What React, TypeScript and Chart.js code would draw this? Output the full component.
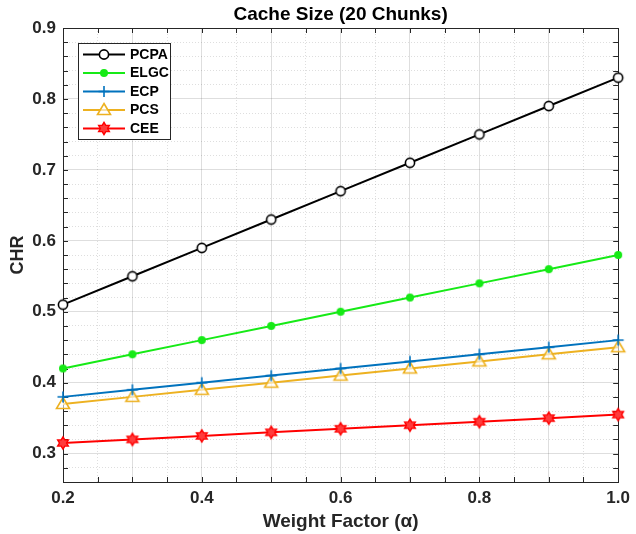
import React, { useEffect, useRef } from 'react';
import { Chart, registerables } from 'chart.js';

Chart.register(...registerables);

const titleText = 'Cache Size (20 Chunks)';
const xAxisTitle = 'Weight Factor (α)';
const yAxisTitle = 'CHR';

const weightFactors = [0.2, 0.3, 0.4, 0.5, 0.6, 0.7, 0.8, 0.9, 1.0];
const pcpaValues = [0.51, 0.55, 0.59, 0.63, 0.67, 0.71, 0.75, 0.79, 0.83];
const elgcValues = [0.42, 0.44, 0.46, 0.48, 0.5, 0.52, 0.54, 0.56, 0.58];
const ecpValues = [0.38, 0.39, 0.4, 0.41, 0.42, 0.43, 0.44, 0.45, 0.46];
const pcsValues = [0.37, 0.38, 0.39, 0.4, 0.41, 0.42, 0.43, 0.44, 0.45];
const ceeValues = [0.315, 0.32, 0.325, 0.33, 0.335, 0.34, 0.345, 0.35, 0.355];

const seriesNames = ['PCPA', 'ELGC', 'ECP', 'PCS', 'CEE'];
const seriesColors = ['#000000', '#16ea16', '#0072BD', '#EDB120', '#FF0000'];
const seriesMarkers = ['circle', 'dot', 'plus', 'triangle', 'hexagram'];

const xTickLabels = ['0.2', '0.4', '0.6', '0.8', '1.0'];
const yTickLabels = ['0.3', '0.4', '0.5', '0.6', '0.7', '0.8', '0.9'];

const X_MIN = 0.2, X_MAX = 1.0, X_STEP = 0.05;
const Y_MIN = 0.26, Y_MAX = 0.9, Y_STEP = 0.02;

const AXIS_COLOR = '#262626';
const FONT = "'Liberation Sans', Arial, sans-serif";

function drawMarker(ctx: CanvasRenderingContext2D, kind: string, color: string, cx: number, cy: number) {
  ctx.save();
  ctx.strokeStyle = color;
  ctx.fillStyle = color;
  ctx.lineWidth = 1.6;
  ctx.setLineDash([]);
  if (kind === 'circle') {
    ctx.beginPath();
    ctx.arc(cx, cy, 4.6, 0, Math.PI * 2);
    ctx.fillStyle = '#ffffff';
    ctx.fill();
    ctx.stroke();
  } else if (kind === 'dot') {
    ctx.beginPath();
    ctx.arc(cx, cy, 4, 0, Math.PI * 2);
    ctx.fill();
  } else if (kind === 'plus') {
    ctx.lineWidth = 1.6;
    ctx.beginPath();
    ctx.moveTo(cx - 5.5, cy);
    ctx.lineTo(cx + 5.5, cy);
    ctx.moveTo(cx, cy - 5.5);
    ctx.lineTo(cx, cy + 5.5);
    ctx.stroke();
  } else if (kind === 'triangle') {
    ctx.beginPath();
    ctx.moveTo(cx, cy - 6.5);
    ctx.lineTo(cx + 6.5, cy + 4.5);
    ctx.lineTo(cx - 6.5, cy + 4.5);
    ctx.closePath();
    ctx.fillStyle = 'rgba(255,255,255,0.6)';
    ctx.fill();
    ctx.stroke();
  } else if (kind === 'hexagram') {
    const R = 6.2, r = R / Math.sqrt(3);
    ctx.beginPath();
    for (let i = 0; i < 12; i++) {
      const rad = i % 2 === 0 ? R : r;
      const a = -Math.PI / 2 + (i * Math.PI) / 6;
      const px = cx + rad * Math.cos(a);
      const py = cy + rad * Math.sin(a);
      if (i === 0) ctx.moveTo(px, py); else ctx.lineTo(px, py);
    }
    ctx.closePath();
    ctx.fillStyle = '#ff3b3b';
    ctx.fill();
    ctx.lineWidth = 1.4;
    ctx.stroke();
  }
  ctx.restore();
}

function makeMarkerCanvas(kind: string, color: string): HTMLCanvasElement {
  const c = document.createElement('canvas');
  c.width = 18;
  c.height = 18;
  const ctx = c.getContext('2d');
  if (ctx) drawMarker(ctx, kind, color, 9, 9);
  return c;
}

const isMultiple = (v: number, step: number) => {
  const q = v / step;
  return Math.abs(q - Math.round(q)) < 1e-6;
};

const boxAndTicksPlugin = {
  id: 'boxAndTicks',
  beforeDatasetsDraw(chart: any) {
    const { ctx, chartArea } = chart;
    const { left, right, top, bottom } = chartArea;
    ctx.save();
    ctx.strokeStyle = AXIS_COLOR;
    ctx.lineWidth = 1;
    ctx.setLineDash([]);
    const tl = 5;
    ctx.beginPath();
    chart.scales.x.ticks.forEach((t: any) => {
      const px = Math.round(chart.scales.x.getPixelForValue(t.value)) + 0.5;
      ctx.moveTo(px, bottom);
      ctx.lineTo(px, bottom - tl);
      ctx.moveTo(px, top);
      ctx.lineTo(px, top + tl);
    });
    chart.scales.y.ticks.forEach((t: any) => {
      const py = Math.round(chart.scales.y.getPixelForValue(t.value)) + 0.5;
      ctx.moveTo(left, py);
      ctx.lineTo(left + tl, py);
      ctx.moveTo(right, py);
      ctx.lineTo(right - tl, py);
    });
    ctx.stroke();
    ctx.strokeRect(Math.round(left) + 0.5, Math.round(top) + 0.5, Math.round(right - left), Math.round(bottom - top));
    ctx.restore();
  },
};

const boxLegendPlugin = {
  id: 'boxLegend',
  afterDraw(chart: any) {
    const { ctx, chartArea } = chart;
    const bx = chartArea.left + 15;
    const by = chartArea.top + 15;
    const bw = 92;
    const bh = 96;
    ctx.save();
    ctx.fillStyle = '#ffffff';
    ctx.fillRect(bx, by, bw, bh);
    ctx.strokeStyle = AXIS_COLOR;
    ctx.lineWidth = 1;
    ctx.strokeRect(bx + 0.5, by + 0.5, bw, bh);
    chart.data.datasets.forEach((ds: any, i: number) => {
      const y = by + 11.5 + i * 18.5;
      ctx.strokeStyle = ds.borderColor;
      ctx.lineWidth = 2;
      ctx.beginPath();
      ctx.moveTo(bx + 5, y);
      ctx.lineTo(bx + 47, y);
      ctx.stroke();
      drawMarker(ctx, seriesMarkers[i], ds.borderColor, bx + 26, y);
      ctx.fillStyle = '#000000';
      ctx.font = `bold 14px ${FONT}`;
      ctx.textBaseline = 'middle';
      ctx.textAlign = 'left';
      ctx.fillText(ds.label, bx + 52, y + 0.5);
    });
    ctx.restore();
  },
};

export default function App() {
  const canvasRef = useRef<HTMLCanvasElement | null>(null);

  useEffect(() => {
    if (!canvasRef.current) return;
    const allValues = [pcpaValues, elgcValues, ecpValues, pcsValues, ceeValues];
    const datasets = seriesNames.map((name, i) => ({
      label: name,
      data: weightFactors.map((x, j) => ({ x, y: allValues[i][j] })),
      borderColor: seriesColors[i],
      backgroundColor: seriesColors[i],
      borderWidth: 2,
      pointStyle: makeMarkerCanvas(seriesMarkers[i], seriesColors[i]),
      pointRadius: 5,
      pointHoverRadius: 5,
      tension: 0,
      clip: false as any,
    }));

    const gridColor = 'rgba(0,0,0,0.13)';

    const chart = new Chart(canvasRef.current, {
      type: 'line',
      data: { datasets },
      plugins: [boxAndTicksPlugin, boxLegendPlugin],
      options: {
        animation: false,
        responsive: true,
        maintainAspectRatio: false,
        layout: { padding: { left: 0, right: 14, top: 0, bottom: 0 } },
        plugins: {
          legend: { display: false },
          tooltip: { enabled: false },
          title: {
            display: true,
            text: titleText,
            fullSize: false,
            color: '#000000',
            font: { family: FONT, size: 19, weight: 'bold' },
            padding: { top: 3.6, bottom: 1.6 },
          },
        },
        scales: {
          x: {
            type: 'linear',
            min: X_MIN,
            max: X_MAX,
            afterFit: (s: any) => { s.height = 52; },
            ticks: {
              stepSize: X_STEP,
              autoSkip: false,
              maxRotation: 0,
              padding: 6,
              color: AXIS_COLOR,
              font: { family: FONT, size: 17, weight: 'bold' },
              callback: (v: any) => {
                const label = Number(v).toFixed(1);
                return isMultiple(Number(v), 0.2) && xTickLabels.includes(label) ? label : '';
              },
            },
            grid: {
              drawTicks: false,
              color: gridColor,
              lineWidth: 1,
            },
            border: {
              display: false,
              dash: (ctx: any) => (ctx.tick && isMultiple(ctx.tick.value, 0.1) ? [] : [1, 2]),
            },
            title: {
              display: true,
              text: xAxisTitle,
              color: AXIS_COLOR,
              font: { family: FONT, size: 19, weight: 'bold' },
              padding: { top: 4, bottom: 0.6 },
            },
          },
          y: {
            type: 'linear',
            min: Y_MIN,
            max: Y_MAX,
            afterFit: (s: any) => { s.width = 63; },
            ticks: {
              stepSize: Y_STEP,
              autoSkip: false,
              padding: 7,
              color: AXIS_COLOR,
              font: { family: FONT, size: 17, weight: 'bold' },
              callback: (v: any) => {
                const label = Number(v).toFixed(1);
                return isMultiple(Number(v), 0.1) && yTickLabels.includes(label) ? label : '';
              },
            },
            grid: {
              drawTicks: false,
              color: gridColor,
              lineWidth: 1,
            },
            border: {
              display: false,
              dash: (ctx: any) => (ctx.tick && isMultiple(ctx.tick.value, 0.1) ? [] : [1, 2]),
            },
            title: {
              display: true,
              text: yAxisTitle,
              color: AXIS_COLOR,
              font: { family: FONT, size: 18, weight: 'bold' },
              padding: { top: 7, bottom: 0 },
            },
          },
        },
      },
    });
    return () => chart.destroy();
  }, []);

  return (
    <div style={{ position: 'absolute', left: 0, top: 0, width: 636, height: 534, background: '#ffffff' }}>
      <canvas ref={canvasRef} />
    </div>
  );
}
